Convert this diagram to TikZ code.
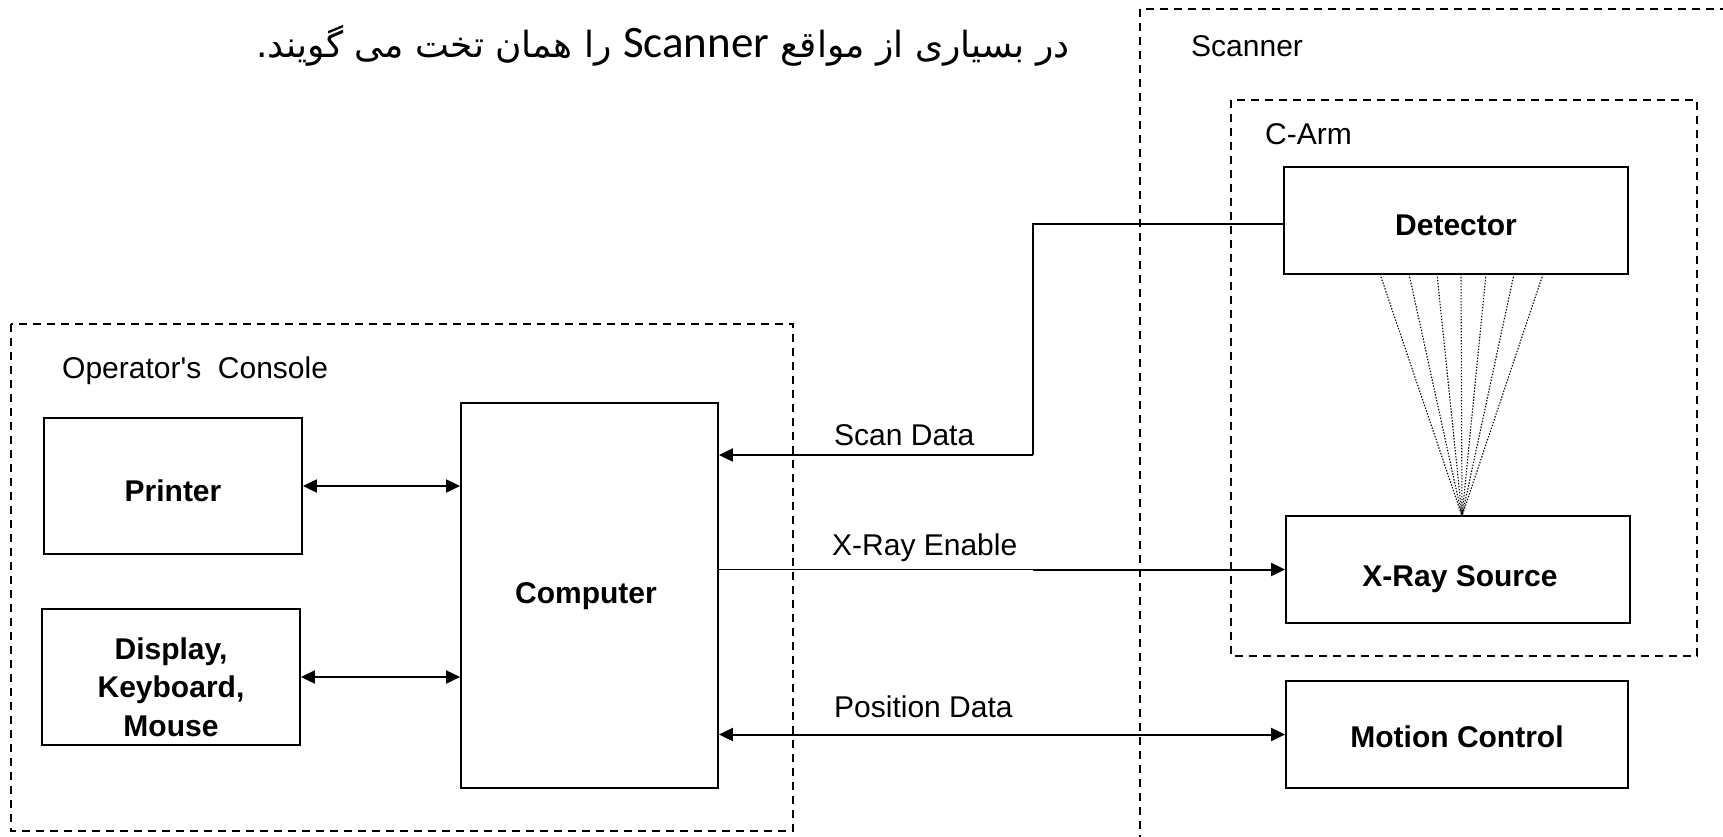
\documentclass[tikz,border=0pt]{standalone}
\usepackage{fontspec}
\setmainfont{Liberation Sans}
\newfontfamily\plainfont{Liberation Sans}
\newfontfamily\arabicfont[Script=Arabic]{DejaVu Sans}
\newfontfamily\carlitofont{Carlito}
\TeXXeTstate=1
\usetikzlibrary{arrows.meta}
\tikzset{
  blk/.style={draw, line width=1.8pt, inner sep=0pt},
  btxt/.style={font=\fontsize{30}{38.5}\selectfont\bfseries, align=center, inner sep=0pt},
  grp/.style={draw, line width=1.4pt, dash pattern=on 8pt off 6pt},
  lbl/.style={font=\fontsize{30}{36}\selectfont, inner sep=0pt},
  conn/.style={line width=2pt},
  thinconn/.style={line width=1.3pt},
  tip/.style={-{Triangle[length=14pt,width=13pt]}},
  dtip/.style={{Triangle[length=14pt,width=13pt]}-{Triangle[length=14pt,width=13pt]}},
  ray/.style={line width=1.1pt, dash pattern=on 1.4pt off 1.6pt}
}
\begin{document}
\begin{tikzpicture}[x=1pt,y=-1pt]
\useasboundingbox (0,0) rectangle (1723,836);
\clip (0,0) rectangle (1723,836);
\fill[white] (0,0) rectangle (1723,836);

% group frames
\draw[grp] (11,324) rectangle (793,831);
\draw[grp] (1140,9) rectangle (1760,880);
\draw[grp] (1231,100) rectangle (1697,656);

% group labels
\node[lbl, anchor=base west] (lcons) at (62,378) {\plainfont Operator's\ \ Console};
\node[lbl, anchor=base west] (lscan) at (1191,56) {Scanner};
\node[lbl, anchor=base west] (lcarm) at (1265,144) {C-Arm};

% note
\node[inner sep=0pt] (note) at (663,46)
  {\fontsize{36}{44}\arabicfont\beginR در بسیاری از مواقع \beginL{\carlitofont\fontsize{45}{50}\selectfont Scanner}\endL{} را همان تخت می گویند.\endR};

% blocks
\node[blk, minimum width=258pt, minimum height=136pt] (printer) at (173,486) {};
\node[blk, minimum width=258pt, minimum height=136pt] (display) at (171,677) {};
\node[blk, minimum width=257pt, minimum height=385pt] (computer) at (589.5,595.5) {};
\node[blk, minimum width=344pt, minimum height=107pt] (detector) at (1456,220.5) {};
\node[blk, minimum width=344pt, minimum height=107pt] (xray) at (1458,569.5) {};
\node[blk, minimum width=342pt, minimum height=107pt] (motion) at (1457,734.5) {};

% block texts
\node[btxt, anchor=base] (printer-t) at (173,501) {Printer};
\node[btxt] (display-t) at (171,687) {Display,\\Keyboard,\\Mouse};
\node[btxt, anchor=base] (computer-t) at (586,603) {Computer};
\node[btxt, anchor=base] (detector-t) at (1456,235) {Detector};
\node[btxt, anchor=base] (xray-t) at (1460,586) {X-Ray Source};
\node[btxt, anchor=base] (motion-t) at (1457,747) {Motion Control};

% fan of rays
\coordinate (apex) at (1462,516);
\foreach \xx in {1380,1409,1437,1461,1486,1514,1543}
  \draw[ray] (\xx,274) -- (apex);

% connectors
\draw[conn, dtip] (printer.east) -- (printer.east -| computer.west);
\draw[conn, dtip] (display.east) -- (display.east -| computer.west);

\coordinate (sd1) at (1033,224);
\coordinate (sd2) at (1033,455);
\draw[thinconn] (detector.west |- sd1) -- (sd1) -- (sd2);
\draw[conn, tip] (sd2) -- (sd2 -| computer.east);

\coordinate (xe) at (xray.west -| sd1);
\draw[thinconn] (computer.east |- xray.west) -- (xe);
\draw[conn, tip] (xe) -- (xray.west);
\draw[conn, dtip] (computer.east |- motion.west) -- (motion.west);

% connector labels
\node[lbl, anchor=base west] (lsd) at (834,445) {Scan Data};
\node[lbl, anchor=base west] (lxr) at (832,555) {X-Ray Enable};
\node[lbl, anchor=base west] (lpd) at (834,717) {Position Data};
\end{tikzpicture}
\end{document}
